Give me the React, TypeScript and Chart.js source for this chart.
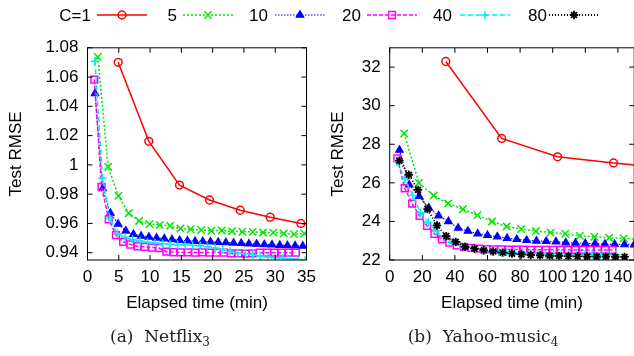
import React, { useEffect, useRef } from "react";
import { Chart, registerables } from "chart.js";
import { drawPoint } from "chart.js/helpers";

Chart.register(...registerables);

const FONT = '"Liberation Sans", Arial, sans-serif';
const FONT_SIZE = 17;

const SERIES_LABELS = ["C=1", "5", "10", "20", "40", "80"];

// ---------- (a) Netflix ----------
const NF_X_TICKS = [0, 5, 10, 15, 20, 25, 30, 35];
const NF_X_LABELS = ["0", "5", "10", "15", "20", "25", "30", "35"];
const NF_Y_TICKS = [0.94, 0.96, 0.98, 1.0, 1.02, 1.04, 1.06, 1.08];
const NF_Y_LABELS = ["0.94", "0.96", "0.98", "1", "1.02", "1.04", "1.06", "1.08"];

const NF_C1_X = [4.9, 9.8, 14.7, 19.5, 24.4, 29.2, 34.1, 39.0];
const NF_C1_Y = [1.0701, 1.0161, 0.9862, 0.976, 0.969, 0.9642, 0.96, 0.957];

const NF_C5_X = [1.65, 3.3, 4.95, 6.6, 8.25, 9.9, 11.55, 13.2, 14.85, 16.5, 18.15, 19.8, 21.45, 23.1, 24.75, 26.4, 28.05, 29.7, 31.35, 33.0, 34.65, 36.3];
const NF_C5_Y = [1.0737, 0.9986, 0.9788, 0.967, 0.9617, 0.9595, 0.959, 0.9583, 0.9565, 0.956, 0.9555, 0.955, 0.9552, 0.9547, 0.9543, 0.9542, 0.9538, 0.9537, 0.9532, 0.9527, 0.9531, 0.9528];

const NF_C10_X = [1.2, 2.43, 3.66, 4.89, 6.12, 7.35, 8.58, 9.81, 11.04, 12.27, 13.5, 14.73, 15.96, 17.19, 18.42, 19.65, 20.88, 22.11, 23.34, 24.57, 25.8, 27.03, 28.26, 29.49, 30.72, 31.95, 33.18, 34.41, 35.64];
const NF_C10_Y = [1.0487, 0.9838, 0.967, 0.9596, 0.9549, 0.9526, 0.9514, 0.9507, 0.9501, 0.9496, 0.949, 0.9485, 0.9481, 0.9478, 0.9476, 0.9474, 0.9472, 0.9469, 0.9467, 0.9464, 0.9461, 0.9459, 0.9456, 0.9454, 0.9451, 0.9449, 0.9447, 0.9445, 0.9443];

const NF_C20_X = [1.1, 2.25, 3.4, 4.55, 5.7, 6.85, 8.0, 9.15, 10.3, 11.45, 12.6, 13.75, 14.9, 16.05, 17.2, 18.35, 19.5, 20.65, 21.8, 22.95, 24.1, 25.25, 26.4, 27.55, 28.7, 29.85, 31.0, 32.15, 33.3];
const NF_C20_Y = [1.0583, 0.985, 0.9627, 0.952, 0.9474, 0.9456, 0.9444, 0.944, 0.9435, 0.9432, 0.9407, 0.9403, 0.9402, 0.9402, 0.9401, 0.9402, 0.9401, 0.9401, 0.94, 0.9395, 0.9395, 0.9394, 0.9395, 0.94, 0.94, 0.94, 0.94, 0.94, 0.94];

const NF_C40_X = [1.2, 2.4, 3.6, 4.8, 6.0, 7.2, 8.4, 9.6, 10.8, 12.0, 13.2, 14.4, 15.6, 16.8, 18.0, 19.2, 20.4, 21.6, 22.8, 24.0, 25.2, 26.4, 27.6, 28.8, 30.0, 31.2, 32.4, 33.6, 34.8, 36.0];
const NF_C40_Y = [1.0708, 0.991, 0.9633, 0.953, 0.9505, 0.949, 0.948, 0.9472, 0.9466, 0.9461, 0.9457, 0.9454, 0.9452, 0.945, 0.9447, 0.944, 0.9432, 0.9422, 0.9408, 0.9398, 0.9392, 0.9386, 0.9378, 0.9371, 0.9366, 0.9362, 0.9357, 0.9354, 0.935, 0.9347];

// ---------- (b) Yahoo-music ----------
const YM_X_TICKS = [0, 20, 40, 60, 80, 100, 120, 140];
const YM_X_LABELS = ["0", "20", "40", "60", "80", "100", "120", "140"];
const YM_Y_TICKS = [22, 24, 26, 28, 30, 32];
const YM_Y_LABELS = ["22", "24", "26", "28", "30", "32"];

const YM_C1_X = [34.4, 68.7, 103.0, 137.3, 171.6];
const YM_C1_Y = [32.29, 28.3, 27.35, 27.03, 26.75];

const YM_C5_X = [8.9, 17.9, 26.9, 35.9, 44.9, 53.8, 62.8, 71.8, 80.7, 89.7, 98.7, 107.7, 116.6, 125.6, 134.6, 143.6, 152.5];
const YM_C5_Y = [28.56, 26.0, 25.34, 24.93, 24.63, 24.32, 24.0, 23.74, 23.6, 23.5, 23.42, 23.36, 23.25, 23.2, 23.15, 23.12, 23.08];

const YM_C10_X = [6, 12, 18, 24, 30, 36, 42, 48, 54, 60, 66, 72, 78, 84, 90, 96, 102, 108, 114, 120, 126, 132, 138, 144, 150];
const YM_C10_Y = [27.7, 25.9, 25.3, 24.7, 24.3, 24.0, 23.66, 23.5, 23.36, 23.28, 23.21, 23.13, 23.07, 23.02, 22.99, 22.97, 22.94, 22.9, 22.88, 22.86, 22.85, 22.82, 22.81, 22.8, 22.79];

const YM_C20_X = [4.7, 9.25, 13.8, 18.35, 22.9, 27.45, 32.0, 36.55, 41.1, 45.65, 50.2, 54.75, 59.3, 63.85, 68.4, 72.95, 77.5, 82.05, 86.6, 91.15, 95.7, 100.25, 104.8, 109.35, 113.9, 118.45, 123.0, 127.55, 132.1, 136.65];
const YM_C20_Y = [27.27, 25.72, 24.92, 24.29, 23.77, 23.36, 23.07, 22.9, 22.76, 22.68, 22.63, 22.59, 22.56, 22.55, 22.55, 22.54, 22.54, 22.54, 22.53, 22.53, 22.53, 22.53, 22.53, 22.52, 22.52, 22.52, 22.52, 22.52, 22.52, 22.52];

const YM_C40_X = [4.5, 9.3, 14.1, 18.9, 23.7, 28.5, 33.3, 38.1, 42.9, 47.7, 52.5, 57.3, 62.1, 66.9, 71.7, 76.5, 81.3, 86.1, 90.9, 95.7, 100.5, 105.3, 110.1, 114.9, 119.7, 124.5, 129.3, 134.1, 138.9];
const YM_C40_Y = [27.1, 26.2, 25.35, 24.45, 23.95, 23.5, 23.17, 22.92, 22.77, 22.65, 22.56, 22.5, 22.45, 22.42, 22.4, 22.38, 22.36, 22.35, 22.34, 22.33, 22.32, 22.31, 22.3, 22.3, 22.29, 22.28, 22.28, 22.27, 22.27];

const YM_C80_X = [5.9, 11.7, 17.4, 23.2, 29.0, 34.7, 40.5, 46.2, 52.0, 57.7, 63.5, 69.3, 75.0, 80.8, 86.5, 92.3, 98.1, 103.8, 109.6, 115.3, 121.1, 126.9, 132.6, 138.4, 144.1];
const YM_C80_Y = [27.15, 26.42, 25.63, 24.64, 23.79, 23.24, 22.94, 22.68, 22.59, 22.5, 22.44, 22.38, 22.33, 22.29, 22.26, 22.24, 22.22, 22.21, 22.2, 22.19, 22.18, 22.17, 22.17, 22.16, 22.16];

// ---------- styles ----------
const STYLES = [
  { color: "#ff0000", dash: [] as number[], point: "circle", radius: 3.9, fill: "rgba(0,0,0,0)", width: 1.5 },
  { color: "#00e800", dash: [2, 2], point: "crossRot", radius: 5.2, fill: "rgba(0,0,0,0)", width: 1.5 },
  { color: "#0000ff", dash: [1.5, 1.5], point: "triangle", radius: 4.3, fill: "#0000ff", width: 1.2 },
  { color: "#ff00ff", dash: [4, 2], point: "rect", radius: 4.8, fill: "rgba(0,0,0,0)", width: 1.5 },
  { color: "#00f0f0", dash: [5, 3], point: "cross", radius: 4.2, fill: "rgba(0,0,0,0)", width: 1.5 },
  { color: "#000000", dash: [1, 2], point: "star", radius: 4.2, fill: "rgba(0,0,0,0)", width: 1.8 },
];

function makeDataset(i: number, xs: number[], ys: number[]) {
  const s = STYLES[i];
  return {
    label: SERIES_LABELS[i],
    data: xs.map((x, k) => ({ x, y: ys[k] })),
    borderColor: s.color,
    backgroundColor: s.fill,
    borderWidth: s.width,
    borderDash: s.dash,
    pointStyle: s.point,
    pointRadius: s.radius,
    pointBorderColor: s.color,
    pointBackgroundColor: s.fill,
    pointBorderWidth: s.width,
    tension: 0,
    fill: false,
    order: 6 - i,
  };
}

const framePlugin = {
  id: "frame",
  afterDraw(chart: any) {
    const { ctx, chartArea } = chart;
    const { left, right, top, bottom } = chartArea;
    const x = chart.scales.x;
    const y = chart.scales.y;
    ctx.save();
    ctx.strokeStyle = "#000";
    ctx.lineWidth = 1;
    ctx.setLineDash([]);
    ctx.beginPath();
    x.ticks.forEach((t: any) => {
      const px = x.getPixelForValue(t.value);
      ctx.moveTo(px, bottom);
      ctx.lineTo(px, bottom - 5);
      ctx.moveTo(px, top);
      ctx.lineTo(px, top + 5);
    });
    y.ticks.forEach((t: any) => {
      const py = y.getPixelForValue(t.value);
      ctx.moveTo(left, py);
      ctx.lineTo(left + 5, py);
      ctx.moveTo(right, py);
      ctx.lineTo(right - 5, py);
    });
    ctx.stroke();
    ctx.strokeRect(left, top, right - left, bottom - top);
    ctx.restore();
  },
};

const LEGEND_TEXT_RIGHT = [91, 177, 268, 361, 452, 547];
const LEGEND_SAMPLE_START = [97, 183, 275, 367, 460, 549];
const LEGEND_SAMPLE_LEN = 50;
const LEGEND_Y = 15;

const legendPlugin = {
  id: "topLegend",
  afterDraw(chart: any) {
    const ctx = chart.ctx;
    ctx.save();
    ctx.font = `${FONT_SIZE}px ${FONT}`;
    ctx.textAlign = "right";
    ctx.textBaseline = "middle";
    SERIES_LABELS.forEach((label, i) => {
      const s = STYLES[i];
      ctx.fillStyle = "#000";
      ctx.fillText(label, LEGEND_TEXT_RIGHT[i], LEGEND_Y + 1);
      const x0 = LEGEND_SAMPLE_START[i];
      ctx.strokeStyle = s.color;
      ctx.lineWidth = s.width;
      ctx.setLineDash(s.dash);
      ctx.beginPath();
      ctx.moveTo(x0, LEGEND_Y);
      ctx.lineTo(x0 + LEGEND_SAMPLE_LEN, LEGEND_Y);
      ctx.stroke();
      ctx.setLineDash([]);
      ctx.fillStyle = s.fill;
      drawPoint(ctx, { pointStyle: s.point, radius: s.radius, borderWidth: s.width, rotation: 0 } as any, x0 + LEGEND_SAMPLE_LEN / 2, LEGEND_Y);
    });
    ctx.restore();
  },
};

function makeOptions(cfg: any) {
  const tickFont = { family: FONT, size: FONT_SIZE };
  return {
    responsive: false,
    animation: false,
    devicePixelRatio: 1,
    events: [],
    layout: { padding: cfg.padding },
    plugins: { legend: { display: false }, tooltip: { enabled: false }, title: { display: false } },
    scales: {
      x: {
        type: "linear",
        min: cfg.xMin,
        max: cfg.xMax,
        grid: { display: false, drawTicks: false },
        border: { display: false },
        afterBuildTicks: (s: any) => {
          s.ticks = cfg.xTicks.map((v: number) => ({ value: v }));
        },
        afterFit: (s: any) => {
          s.height = 60;
        },
        ticks: {
          autoSkip: false,
          maxRotation: 0,
          minRotation: 0,
          padding: 7,
          color: "#000",
          font: tickFont,
          callback: (_v: any, i: number) => cfg.xLabels[i],
        },
        title: {
          display: true,
          text: "Elapsed time (min)",
          color: "#000",
          font: tickFont,
          padding: { top: 0, bottom: 6.5 },
        },
      },
      y: {
        type: "linear",
        min: cfg.yMin,
        max: cfg.yMax,
        grid: { display: false, drawTicks: false },
        border: { display: false },
        afterBuildTicks: (s: any) => {
          s.ticks = cfg.yTicks.map((v: number) => ({ value: v }));
        },
        afterFit: (s: any) => {
          s.width = cfg.yWidth;
        },
        ticks: {
          autoSkip: false,
          padding: 9,
          color: "#000",
          font: tickFont,
          callback: (_v: any, i: number) => cfg.yLabels[i],
        },
        title: {
          display: true,
          text: "Test RMSE",
          color: "#000",
          font: tickFont,
          padding: { top: cfg.yTitlePad, bottom: 0 },
        },
      },
    },
  };
}

export default function App() {
  const leftRef = useRef<HTMLCanvasElement>(null);
  const rightRef = useRef<HTMLCanvasElement>(null);

  useEffect(() => {
    const left = new Chart(leftRef.current as HTMLCanvasElement, {
      type: "line",
      data: {
        datasets: [
          makeDataset(0, NF_C1_X, NF_C1_Y),
          makeDataset(1, NF_C5_X, NF_C5_Y),
          makeDataset(2, NF_C10_X, NF_C10_Y),
          makeDataset(3, NF_C20_X, NF_C20_Y),
          makeDataset(4, NF_C40_X, NF_C40_Y),
        ] as any,
      },
      options: makeOptions({
        xMin: 0,
        xMax: 35,
        yMin: 0.935,
        yMax: 1.08,
        xTicks: NF_X_TICKS,
        xLabels: NF_X_LABELS,
        yTicks: NF_Y_TICKS,
        yLabels: NF_Y_LABELS,
        yWidth: 87.5,
        yTitlePad: 6,
        padding: { left: 0, top: 47.8, right: 634 - 306.5, bottom: 36 },
      }) as any,
      plugins: [framePlugin, legendPlugin],
    });
    const right = new Chart(rightRef.current as HTMLCanvasElement, {
      type: "line",
      data: {
        datasets: [
          makeDataset(0, YM_C1_X, YM_C1_Y),
          makeDataset(1, YM_C5_X, YM_C5_Y),
          makeDataset(2, YM_C10_X, YM_C10_Y),
          makeDataset(3, YM_C20_X, YM_C20_Y),
          makeDataset(4, YM_C40_X, YM_C40_Y),
          makeDataset(5, YM_C80_X, YM_C80_Y),
        ] as any,
      },
      options: makeOptions({
        xMin: 0,
        xMax: 150,
        yMin: 22,
        yMax: 33,
        xTicks: YM_X_TICKS,
        xLabels: YM_X_LABELS,
        yTicks: YM_Y_TICKS,
        yLabels: YM_Y_LABELS,
        yWidth: 72.7,
        yTitlePad: 11.3,
        padding: { left: 0, top: 47.8, right: 324 - 317.2, bottom: 36 },
      }) as any,
      plugins: [framePlugin],
    });
    return () => {
      left.destroy();
      right.destroy();
    };
  }, []);

  const captionStyle: React.CSSProperties = {
    position: "absolute",
    top: 325,
    width: 240,
    textAlign: "center",
    fontFamily: '"DejaVu Serif", serif',
    fontSize: 17,
    lineHeight: "22px",
    whiteSpace: "nowrap",
    color: "#222",
  };

  return (
    <div
      style={{
        position: "fixed",
        left: 0,
        top: 0,
        width: 634,
        height: 356,
        overflow: "hidden",
        background: "#fff",
      }}
    >
      <canvas ref={leftRef} width={634} height={356} style={{ position: "absolute", left: 0, top: 0 }} />
      <canvas ref={rightRef} width={324} height={356} style={{ position: "absolute", left: 317, top: 0 }} />
      <div style={{ ...captionStyle, left: 160 - 120 }}>
        (a)&nbsp;&nbsp;Netflix<sub style={{ fontSize: 12 }}>3</sub>
      </div>
      <div style={{ ...captionStyle, left: 483 - 120 }}>
        (b)&nbsp;&nbsp;Yahoo-music<sub style={{ fontSize: 12 }}>4</sub>
      </div>
    </div>
  );
}
